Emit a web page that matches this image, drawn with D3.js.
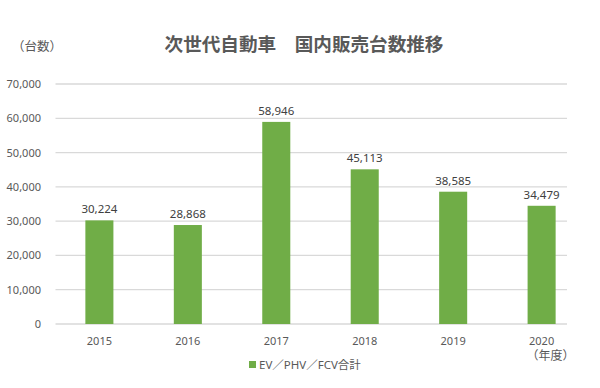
<!DOCTYPE html>
<html>
<head>
<meta charset="utf-8">
<script src="https://cdn.jsdelivr.net/npm/d3@7"></script>
<style>
  body { margin: 0; background: #fff; }
  text { font-family: "Noto Sans", "Noto Sans CJK JP", sans-serif; }
</style>
</head>
<body>
<svg id="chart" width="600" height="388"></svg>
<script>
// data
var years = ["2015", "2016", "2017", "2018", "2019", "2020"];
var sales = [30224, 28868, 58946, 45113, 38585, 34479];
var yTicks = [0, 10000, 20000, 30000, 40000, 50000, 60000, 70000];

var svg = d3.select('#chart');
var fmt = d3.format(',');

// plot area
var plotLeft = 55.5, plotRight = 567, plotTop = 84, plotBottom = 324;

var x = d3.scaleBand().domain(years).range([55.3, 585.7]).paddingInner(0.683).paddingOuter(0.34);
var y = d3.scaleLinear().domain([0, 70000]).range([plotBottom, plotTop]);

// gridlines
svg.append('g').selectAll('line')
  .data(yTicks)
  .enter().append('line')
  .attr('x1', plotLeft).attr('x2', plotRight)
  .attr('y1', function(d){ return y(d); })
  .attr('y2', function(d){ return y(d); })
  .attr('stroke', '#d9d9d9')
  .attr('stroke-width', 1.3);

// y tick labels
svg.append('g').selectAll('text')
  .data(yTicks)
  .enter().append('text')
  .attr('x', 41)
  .attr('y', function(d){ return y(d) + 4; })
  .attr('text-anchor', 'end')
  .attr('font-size', 11)
  .attr('fill', '#595959')
  .text(function(d){ return fmt(d); });

// bars
svg.append('g').selectAll('rect')
  .data(sales)
  .enter().append('rect')
  .attr('x', function(d, i){ return x(years[i]); })
  .attr('width', x.bandwidth())
  .attr('y', function(d){ return y(d); })
  .attr('height', function(d){ return y(0) - y(d); })
  .attr('fill', '#70ad47');

// value labels
svg.append('g').selectAll('text')
  .data(sales)
  .enter().append('text')
  .attr('x', function(d, i){ return x(years[i]) + x.bandwidth() / 2; })
  .attr('y', function(d){ return y(d) - 7; })
  .attr('text-anchor', 'middle')
  .attr('font-size', 11.5)
  .attr('fill', '#404040')
  .text(function(d){ return fmt(d); });

// x labels
svg.append('g').selectAll('text')
  .data(years)
  .enter().append('text')
  .attr('x', function(d){ return x(d) + x.bandwidth() / 2; })
  .attr('y', 345)
  .attr('text-anchor', 'middle')
  .attr('font-size', 11)
  .attr('fill', '#595959')
  .text(function(d){ return d; });

// unit labels
svg.append('text')
  .attr('x', 12).attr('y', 51)
  .attr('font-size', 12.5)
  .attr('fill', '#595959')
  .text('（台数）');

svg.append('text')
  .attr('x', x('2020') + x.bandwidth() / 2 + 9).attr('y', 360)
  .attr('text-anchor', 'middle')
  .attr('font-size', 12)
  .attr('fill', '#595959')
  .text('（年度）');

// title
svg.append('text')
  .attr('x', 304).attr('y', 51)
  .attr('text-anchor', 'middle')
  .attr('font-size', 18.6)
  .attr('font-weight', 'bold')
  .attr('fill', '#595959')
  .text('次世代自動車　国内販売台数推移');

// legend
var legend = svg.append('g').attr('transform', 'translate(249,361)');
legend.append('rect')
  .attr('width', 7).attr('height', 7)
  .attr('fill', '#70ad47');
legend.append('text')
  .attr('x', 10).attr('y', 7.5)
  .attr('font-size', 11.5)
  .attr('fill', '#595959')
  .text('EV／PHV／FCV合計');
</script>
</body>
</html>
